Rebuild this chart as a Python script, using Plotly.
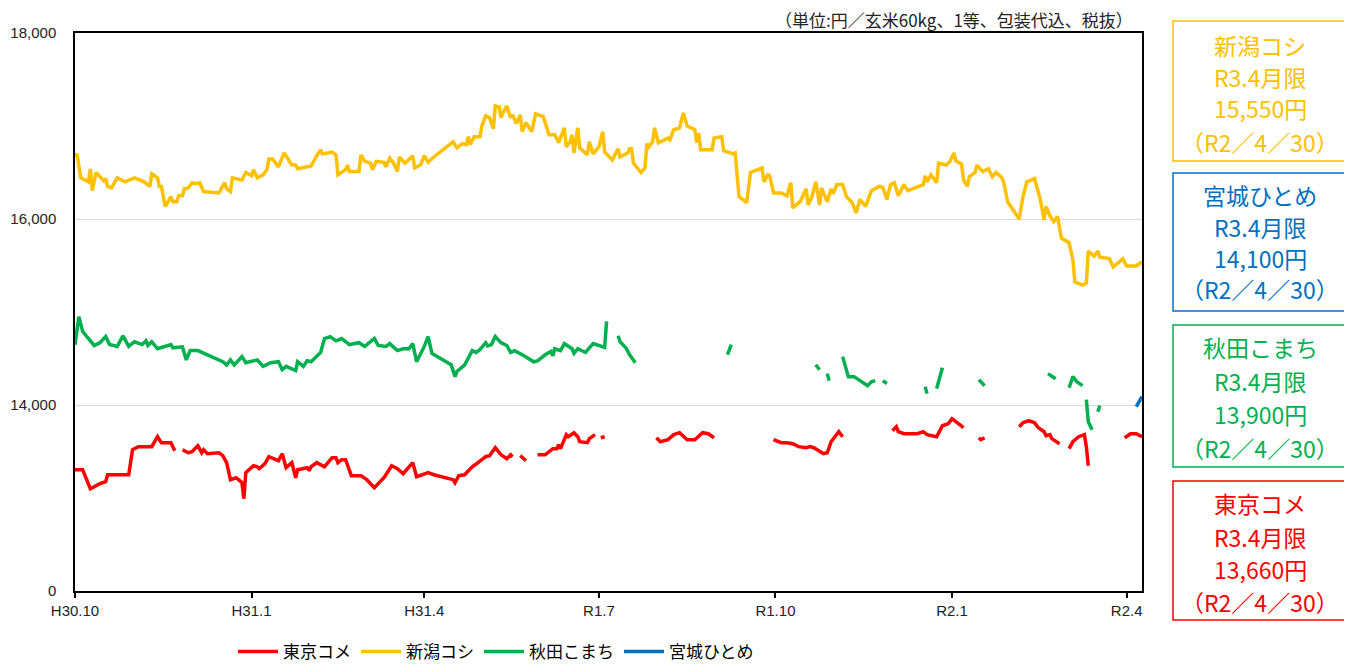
import plotly.graph_objects as go

# ---- data (date, price yen) ; None = no trade / gap ----
tokyo = [("2018-10-01",13304),("2018-10-05",13304),("2018-10-09",13100),("2018-10-14",13154),("2018-10-17",13175),("2018-10-18",13250),("2018-10-29",13250),("2018-10-31",13519),("2018-11-03",13552),("2018-11-10",13552),("2018-11-13",13659),("2018-11-15",13595),("2018-11-20",13595),("2018-11-21",13541),("2018-11-22",13509),("2018-11-24",None),("2018-11-26",13519),("2018-11-29",13487),("2018-12-01",13498),("2018-12-04",13562),("2018-12-06",13487),("2018-12-07",13519),("2018-12-09",13476),("2018-12-15",13487),("2018-12-17",13455),("2018-12-19",13380),("2018-12-21",13197),("2018-12-24",13218),("2018-12-27",13164),("2018-12-28",12992),("2018-12-29",13272),("2019-01-02",13347),("2019-01-04",13336),("2019-01-05",13315),("2019-01-08",13369),("2019-01-10",13444),("2019-01-15",13401),("2019-01-17",13476),("2019-01-19",13326),("2019-01-22",13380),("2019-01-24",13218),("2019-01-25",13304),("2019-01-30",13326),("2019-01-31",13294),("2019-02-01",13336),("2019-02-04",13380),("2019-02-08",13336),("2019-02-12",13433),("2019-02-14",13433),("2019-02-15",13380),("2019-02-17",13412),("2019-02-19",13412),("2019-02-22",13240),("2019-02-27",13240),("2019-03-02",13197),("2019-03-06",13111),("2019-03-11",13218),("2019-03-15",13347),("2019-03-18",13315),("2019-03-21",13261),("2019-03-26",13380),("2019-03-28",13229),("2019-03-31",13250),("2019-04-03",13272),("2019-04-06",13250),("2019-04-16",13197),("2019-04-17",13164),("2019-04-19",13240),("2019-04-22",13250),("2019-04-26",13336),("2019-04-29",13380),("2019-05-03",13444),("2019-05-05",13455),("2019-05-08",13541),("2019-05-11",13465),("2019-05-14",13422),("2019-05-16",13465),("2019-05-17",13444),("2019-05-19",None),("2019-05-21",13455),("2019-05-24",13401),("2019-05-27",None),("2019-05-30",13465),("2019-06-03",13465),("2019-06-07",13530),("2019-06-09",13530),("2019-06-10",13573),("2019-06-11",13530),("2019-06-14",13681),("2019-06-15",13659),("2019-06-18",13702),("2019-06-20",13659),("2019-06-21",13605),("2019-06-25",13595),("2019-06-26",13638),("2019-06-29",13681),("2019-06-30",None),("2019-07-02",13648),("2019-07-04",13659),("2019-07-15",None),("2019-07-31",13648),("2019-08-02",13605),("2019-08-06",13627),("2019-08-09",13681),("2019-08-12",13702),("2019-08-14",13659),("2019-08-16",13627),("2019-08-20",13627),("2019-08-24",13702),("2019-08-27",13691),("2019-08-30",13648),("2019-09-15",None),("2019-09-30",13627),("2019-10-04",13595),("2019-10-07",13595),("2019-10-10",13584),("2019-10-13",13552),("2019-10-17",13541),("2019-10-19",13552),("2019-10-21",13541),("2019-10-26",13476),("2019-10-28",13487),("2019-10-30",13605),("2019-11-01",13659),("2019-11-03",13713),("2019-11-05",13659),("2019-11-20",None),("2019-12-01",13724),("2019-12-03",13767),("2019-12-04",13713),("2019-12-07",13691),("2019-12-14",13691),("2019-12-17",13713),("2019-12-19",13681),("2019-12-24",13659),("2019-12-27",13777),("2019-12-30",13799),("2020-01-01",13853),("2020-01-04",13799),("2020-01-07",13756),("2020-01-11",None),("2020-01-15",13648),("2020-01-16",13627),("2020-01-18",13648),("2020-01-25",None),("2020-02-05",13767),("2020-02-07",13810),("2020-02-10",13831),("2020-02-13",13810),("2020-02-15",13756),("2020-02-18",13713),("2020-02-19",13670),("2020-02-21",13681),("2020-02-22",13638),("2020-02-26",13584),("2020-02-28",None),("2020-03-02",13530),("2020-03-04",13605),("2020-03-07",13659),("2020-03-10",13681),("2020-03-11",13552),("2020-03-12",13347),("2020-03-20",None),("2020-03-31",13648),("2020-04-03",13691),("2020-04-06",13691),("2020-04-09",13659)]

niigata = [("2018-10-01",16673),("2018-10-02",16700),("2018-10-04",16443),("2018-10-08",16400),("2018-10-09",16540),("2018-10-10",16305),("2018-10-12",16500),("2018-10-16",16410),("2018-10-17",16435),("2018-10-18",16350),("2018-10-20",16335),("2018-10-23",16443),("2018-10-27",16400),("2018-11-01",16443),("2018-11-06",16400),("2018-11-09",16350),("2018-11-10",16487),("2018-11-13",16443),("2018-11-14",16350),("2018-11-15",16350),("2018-11-17",16134),("2018-11-20",16240),("2018-11-21",16185),("2018-11-23",16185),("2018-11-24",16250),("2018-11-26",16250),("2018-11-27",16325),("2018-11-29",16335),("2018-12-01",16390),("2018-12-03",16380),("2018-12-05",16390),("2018-12-07",16295),("2018-12-15",16280),("2018-12-18",16390),("2018-12-19",16325),("2018-12-21",16295),("2018-12-22",16443),("2018-12-27",16420),("2018-12-29",16500),("2019-01-01",16465),("2019-01-02",16530),("2019-01-04",16443),("2019-01-07",16475),("2019-01-09",16530),("2019-01-10",16645),("2019-01-12",16645),("2019-01-15",16560),("2019-01-18",16710),("2019-01-22",16580),("2019-01-24",16580),("2019-01-25",16540),("2019-02-01",16570),("2019-02-04",16680),("2019-02-06",16745),("2019-02-07",16700),("2019-02-12",16720),("2019-02-14",16690),("2019-02-15",16475),("2019-02-19",16530),("2019-02-20",16580),("2019-02-21",16510),("2019-02-26",16510),("2019-02-27",16690),("2019-03-01",16620),("2019-03-04",16600),("2019-03-05",16530),("2019-03-07",16620),("2019-03-11",16610),("2019-03-12",16560),("2019-03-14",16655),("2019-03-16",16600),("2019-03-18",16510),("2019-03-19",16667),("2019-03-22",16600),("2019-03-26",16680),("2019-03-27",16550),("2019-03-30",16580),("2019-04-01",16680),("2019-04-03",16610),("2019-04-06",16667),("2019-04-16",16830),("2019-04-18",16765),("2019-04-21",16810),("2019-04-23",16800),("2019-04-24",16885),("2019-04-25",16800),("2019-04-27",16885),("2019-04-30",16885),("2019-05-01",17000),("2019-05-03",17110),("2019-05-05",17090),("2019-05-07",16970),("2019-05-08",17215),("2019-05-10",17205),("2019-05-11",17090),("2019-05-12",17140),("2019-05-14",17215),("2019-05-16",17090),("2019-05-17",17120),("2019-05-19",17025),("2019-05-21",17120),("2019-05-22",16940),("2019-05-24",17035),("2019-05-27",16940),("2019-05-29",17130),("2019-06-02",17100),("2019-06-05",16905),("2019-06-08",16905),("2019-06-10",16820),("2019-06-12",16925),("2019-06-13",16980),("2019-06-14",16775),("2019-06-16",16830),("2019-06-17",16905),("2019-06-18",16710),("2019-06-20",16980),("2019-06-21",16765),("2019-06-25",16690),("2019-06-26",16830),("2019-06-28",16700),("2019-07-01",16775),("2019-07-03",16940),("2019-07-04",16720),("2019-07-08",16635),("2019-07-11",16755),("2019-07-12",16667),("2019-07-16",16710),("2019-07-17",16755),("2019-07-18",16755),("2019-07-19",16600),("2019-07-23",16500),("2019-07-25",16550),("2019-07-26",16810),("2019-07-27",16775),("2019-07-29",16830),("2019-07-30",16980),("2019-08-01",16820),("2019-08-06",16870),("2019-08-07",16850),("2019-08-09",16960),("2019-08-12",16980),("2019-08-14",17140),("2019-08-16",17000),("2019-08-20",16960),("2019-08-21",16820),("2019-08-22",16925),("2019-08-23",16745),("2019-08-29",16745),("2019-08-30",16870),("2019-09-03",16885),("2019-09-04",16735),("2019-09-09",16700),("2019-09-10",16710),("2019-09-12",16240),("2019-09-14",16210),("2019-09-16",16175),("2019-09-18",16500),("2019-09-24",16550),("2019-09-25",16400),("2019-09-27",16475),("2019-09-28",16465),("2019-09-30",16280),("2019-10-04",16280),("2019-10-06",16260),("2019-10-07",16250),("2019-10-09",16390),("2019-10-10",16120),("2019-10-14",16190),("2019-10-17",16325),("2019-10-18",16150),("2019-10-20",16240),("2019-10-22",16400),("2019-10-24",16150),("2019-10-25",16335),("2019-10-28",16185),("2019-10-30",16325),("2019-10-31",16270),("2019-11-02",16370),("2019-11-05",16370),("2019-11-07",16240),("2019-11-10",16175),("2019-11-12",16065),("2019-11-14",16210),("2019-11-17",16135),("2019-11-20",16305),("2019-11-24",16350),("2019-11-26",16340),("2019-11-28",16210),("2019-11-30",16370),("2019-12-02",16390),("2019-12-04",16250),("2019-12-07",16370),("2019-12-09",16305),("2019-12-17",16370),("2019-12-18",16465),("2019-12-19",16400),("2019-12-21",16475),("2019-12-24",16390),("2019-12-25",16600),("2019-12-29",16580),("2019-12-31",16620),("2020-01-02",16710),("2020-01-03",16625),("2020-01-06",16590),("2020-01-07",16420),("2020-01-09",16350),("2020-01-10",16455),("2020-01-13",16500),("2020-01-14",16580),("2020-01-17",16510),("2020-01-20",16540),("2020-01-22",16455),("2020-01-24",16500),("2020-01-27",16443),("2020-01-28",16390),("2020-01-30",16185),("2020-02-05",16000),("2020-02-07",16240),("2020-02-09",16400),("2020-02-13",16435),("2020-02-16",16210),("2020-02-18",15990),("2020-02-19",16135),("2020-02-21",16035),("2020-02-23",15970),("2020-02-25",16025),("2020-02-27",15795),("2020-03-02",15745),("2020-03-04",15560),("2020-03-05",15325),("2020-03-09",15290),("2020-03-11",15310),("2020-03-12",15655),("2020-03-15",15600),("2020-03-17",15655),("2020-03-18",15590),("2020-03-21",15580),("2020-03-23",15575),("2020-03-25",15485),("2020-03-27",15515),("2020-03-30",15570),("2020-04-01",15495),("2020-04-06",15495),("2020-04-09",15540)]

akita = [("2018-10-01",14648),("2018-10-03",14950),("2018-10-05",14790),("2018-10-09",14680),("2018-10-11",14640),("2018-10-14",14670),("2018-10-17",14735),("2018-10-19",14650),("2018-10-23",14630),("2018-10-26",14745),("2018-10-29",14630),("2018-11-01",14680),("2018-11-05",14650),("2018-11-07",14690),("2018-11-08",14640),("2018-11-10",14680),("2018-11-13",14605),("2018-11-20",14650),("2018-11-21",14615),("2018-11-26",14625),("2018-11-28",14485),("2018-11-30",14585),("2018-12-04",14585),("2018-12-17",14465),("2018-12-19",14430),("2018-12-21",14485),("2018-12-23",14430),("2018-12-27",14520),("2018-12-29",14455),("2018-12-31",14465),("2019-01-04",14485),("2019-01-07",14415),("2019-01-11",14455),("2019-01-15",14465),("2019-01-17",14380),("2019-01-19",14415),("2019-01-20",14405),("2019-01-24",14370),("2019-01-25",14465),("2019-01-28",14415),("2019-01-30",14475),("2019-02-01",14465),("2019-02-06",14565),("2019-02-08",14715),("2019-02-11",14735),("2019-02-14",14690),("2019-02-17",14715),("2019-02-21",14650),("2019-02-26",14670),("2019-03-01",14630),("2019-03-06",14715),("2019-03-08",14640),("2019-03-12",14630),("2019-03-14",14660),("2019-03-18",14585),("2019-03-21",14605),("2019-03-24",14605),("2019-03-26",14660),("2019-03-28",14465),("2019-04-01",14630),("2019-04-03",14735),("2019-04-05",14555),("2019-04-15",14433),("2019-04-16",14380),("2019-04-17",14305),("2019-04-18",14360),("2019-04-22",14430),("2019-04-26",14585),("2019-04-28",14565),("2019-04-30",14595),("2019-05-03",14670),("2019-05-04",14635),("2019-05-06",14650),("2019-05-08",14735),("2019-05-11",14670),("2019-05-14",14640),("2019-05-16",14565),("2019-05-18",14585),("2019-05-21",14555),("2019-05-23",14530),("2019-05-28",14465),("2019-05-30",14475),("2019-06-03",14540),("2019-06-06",14575),("2019-06-07",14530),("2019-06-08",14605),("2019-06-11",14585),("2019-06-13",14660),("2019-06-17",14605),("2019-06-18",14555),("2019-06-20",14605),("2019-06-24",14565),("2019-06-28",14660),("2019-07-02",14630),("2019-07-04",14620),("2019-07-05",14900),("2019-07-08",None),("2019-07-11",14745),("2019-07-12",14681),("2019-07-15",14616),("2019-07-17",14541),("2019-07-20",14455),("2019-08-15",None),("2019-09-06",14541),("2019-09-08",14648),("2019-10-01",None),("2019-10-22",14433),("2019-10-24",14379),("2019-10-26",None),("2019-10-28",14337),("2019-10-29",14262),("2019-11-02",None),("2019-11-05",14520),("2019-11-08",14305),("2019-11-11",14305),("2019-11-14",14262),("2019-11-18",14208),("2019-11-20",14250),("2019-11-22",14262),("2019-11-24",None),("2019-11-26",14262),("2019-11-28",14229),("2019-12-10",None),("2019-12-18",14197),("2019-12-19",14122),("2019-12-21",None),("2019-12-24",14176),("2019-12-27",14401),("2020-01-05",None),("2020-01-15",14272),("2020-01-18",14208),("2020-02-01",None),("2020-02-20",14337),("2020-02-24",14283),("2020-02-28",None),("2020-03-02",14186),("2020-03-04",14305),("2020-03-06",14250),("2020-03-09",14208),("2020-03-10",None),("2020-03-11",14057),("2020-03-12",13820),("2020-03-14",13735),("2020-03-15",None),("2020-03-17",13928),("2020-03-18",13993)]

miyagi = [("2020-04-06",13983),("2020-04-09",14090)]

series_names = ["東京コメ", "新潟コシ", "秋田こまち", "宮城ひとめ"]
series_data = [tokyo, niigata, akita, miyagi]
series_colors = ["#FF0000", "#FFC000", "#00B050", "#0070C0"]

x_tickvals = ["2018-10-01", "2019-01-01", "2019-04-01", "2019-07-01", "2019-10-01", "2020-01-01", "2020-04-01"]
x_ticktext = ["H30.10", "H31.1", "H31.4", "R1.7", "R1.10", "R2.1", "R2.4"]
y_tickvals = [12000, 14000, 16000, 18000]
y_ticktext = ["0", "14,000", "16,000", "18,000"]

box_lines = [
    ["新潟コシ", "R3.4月限", "15,550円", "（R2／4／30）"],
    ["宮城ひとめ", "R3.4月限", "14,100円", "（R2／4／30）"],
    ["秋田こまち", "R3.4月限", "13,900円", "（R2／4／30）"],
    ["東京コメ", "R3.4月限", "13,660円", "（R2／4／30）"],
]
box_colors = ["#FFC000", "#0070C0", "#00B050", "#FF0000"]

unit_text = "（単位:円／玄米60kg、1等、包装代込、税抜）"

# ---- figure ----
fig = go.Figure()
for name, data, color in zip(series_names, series_data, series_colors):
    xs = [d for d, v in data]
    ys = [v for d, v in data]
    fig.add_trace(go.Scatter(x=xs, y=ys, mode="lines", name=name,
                             line=dict(color=color, width=3.5),
                             connectgaps=False))

JP = "Noto Sans CJK JP, Liberation Sans, sans-serif"
NUM = "Liberation Sans, Arial, sans-serif"

# page geometry: the html body adds an 8px margin around the figure
OFF = 8
W, H = 1352 - OFF, 665 - OFF
PL, PR, PT, PB = 75, 1142, 33, 591          # plot area in page pixels
L, T = PL - OFF, PT - OFF
R, B = W - (PR - OFF), H - (PB - OFF)
pw, ph = PR - PL, PB - PT

def px2x(px):
    return (px - PL) / pw

def py2y(py):
    return (PB - py) / ph

shapes = []
annotations = []
box_geom = [(21, 161, [45, 77, 108, 142]),
            (173, 311, [195, 227, 258, 289]),
            (325, 467, [347, 381, 414, 448]),
            (481, 620, [503, 537, 569, 602])]
for lines, color, (top, bot, ys) in zip(box_lines, box_colors, box_geom):
    shapes.append(dict(type="rect", xref="paper", yref="paper",
                       x0=px2x(1173), x1=px2x(1348), y0=py2y(bot), y1=py2y(top),
                       line=dict(color=color, width=1.5), fillcolor="rgba(0,0,0,0)"))
    for txt, yy in zip(lines, ys):
        annotations.append(dict(text=txt, xref="paper", yref="paper",
                                x=px2x(1260), y=py2y(yy), xanchor="center", yanchor="middle",
                                showarrow=False, font=dict(family=JP, size=23, color=color)))

annotations.append(dict(text=unit_text, xref="paper", yref="paper",
                        x=px2x(1135), y=py2y(20), xanchor="right", yanchor="middle",
                        showarrow=False, font=dict(family=JP, size=17, color="#222222")))

fig.update_layout(
    width=W, height=H,
    margin=dict(l=L, r=R, t=T, b=B, pad=0, autoexpand=False),
    paper_bgcolor="white", plot_bgcolor="white",
    shapes=shapes, annotations=annotations,
    showlegend=True,
    legend=dict(orientation="h", x=px2x(233), xanchor="left",
                y=py2y(634), yanchor="top",
                font=dict(family=JP, size=17, color="#000000"),
                itemwidth=40, bgcolor="rgba(0,0,0,0)"),
    xaxis=dict(type="date", range=["2018-10-01", "2020-04-09"],
               tickvals=x_tickvals, ticktext=x_ticktext,
               ticks="outside", ticklen=5, tickwidth=1.5, tickcolor="#000000",
               showline=True, linecolor="#000000", linewidth=2, mirror=True,
               showgrid=False, zeroline=False, automargin=False,
               tickfont=dict(family=NUM, size=15, color="#222222")),
    yaxis=dict(range=[12000, 18000], tickvals=y_tickvals, ticktext=y_ticktext,
               ticks="", showline=True, linecolor="#000000", linewidth=1.5, mirror=True,
               showgrid=True, gridcolor="#D9D9D9", gridwidth=1, zeroline=False,
               automargin=False, ticklabelstandoff=14,
               tickfont=dict(family=NUM, size=15, color="#222222")),
)

fig.write_html("out.html")
